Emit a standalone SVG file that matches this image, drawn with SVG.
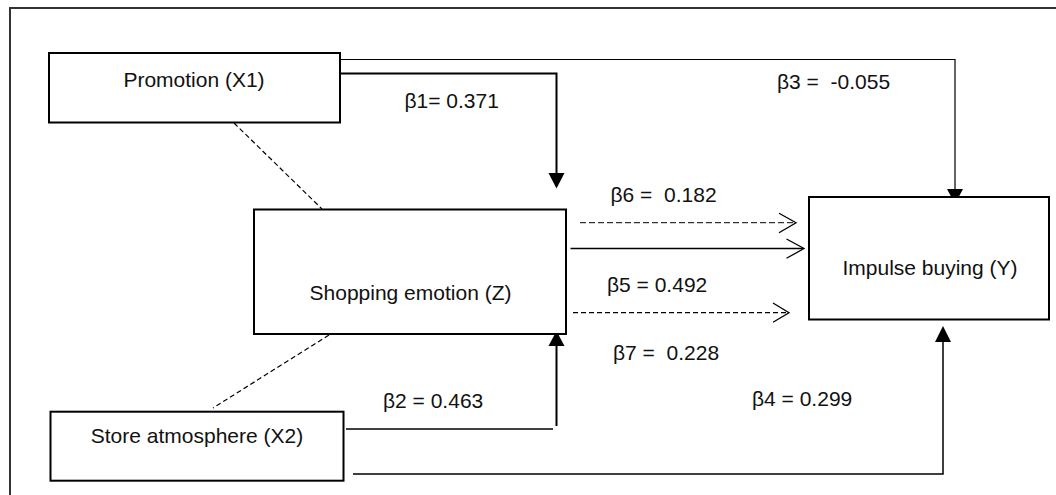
<svg xmlns="http://www.w3.org/2000/svg" width="1056" height="495" viewBox="0 0 1056 495">
<style>
.box{fill:#fff;stroke:#000;stroke-width:2}
.lbl{font-family:"Liberation Sans",Arial,sans-serif;font-size:21px;fill:#111;white-space:pre}
.mid{text-anchor:middle}
.ln{fill:none;stroke:#000}
.dash{fill:none;stroke:#000;stroke-width:1.2;stroke-dasharray:5 3}
.head{fill:#000;stroke:none}
</style>
<rect x="10" y="8" width="1100" height="600" fill="#fff" stroke="#333" stroke-width="2"/>
<g id="connectors">
  <line class="dash" x1="234" y1="123" x2="322" y2="209"/>
  <line class="dash" x1="329" y1="335" x2="213" y2="408"/>
  <polyline class="ln" stroke-width="1.2" points="340,59.5 955,59.5 955,190"/>
  <polygon class="head" points="947,189 963,189 955,204"/>
  <polyline class="ln" stroke-width="2" points="340,73.5 556.5,73.5 556.5,174"/>
  <polygon class="head" points="548.5,173 564.5,173 556.5,188.5"/>
  <line class="ln" stroke-width="1.5" x1="346" y1="429" x2="553" y2="429"/>
  <line class="ln" stroke-width="2" x1="556.5" y1="426" x2="556.5" y2="345"/>
  <polygon class="head" points="548.5,346 564.5,346 556.5,331"/>
  <polyline class="ln" stroke-width="1.5" points="353,474 943,474 943,341"/>
  <polygon class="head" points="935,342 951,342 943,326"/>
  <line class="ln" stroke-width="1" stroke-dasharray="6 3" x1="580" y1="222.7" x2="795" y2="222.7"/>
  <polyline class="ln" stroke-width="1.3" points="779,213.3 796,222.7 779,232.7"/>
  <line class="ln" stroke-width="1.5" x1="570.5" y1="248.5" x2="803" y2="248.5"/>
  <polyline class="ln" stroke-width="1.3" points="786.5,239 804,248.5 786.5,258.3"/>
  <line class="dash" x1="573" y1="312.7" x2="788" y2="312.7"/>
  <polyline class="ln" stroke-width="1.3" points="773,303 789,312.7 773,322.3"/>
</g>
<g id="node-promotion">
  <rect class="box" x="49" y="53" width="291" height="69.5"/>
  <text class="lbl mid" x="194" y="86.7">Promotion (X1)</text>
</g>
<g id="node-shopping">
  <rect class="box" x="254" y="209.5" width="312" height="124.5"/>
  <text class="lbl mid" x="410.5" y="300">Shopping emotion (Z)</text>
</g>
<g id="node-store">
  <rect class="box" x="50.5" y="411.7" width="293" height="69"/>
  <text class="lbl mid" x="197" y="443.3">Store atmosphere (X2)</text>
</g>
<g id="node-impulse">
  <rect class="box" x="809" y="197" width="240" height="122.5"/>
  <text class="lbl mid" x="930" y="275">Impulse buying (Y)</text>
</g>
<g id="labels">
  <text class="lbl" x="404.5" y="108.3">β1= 0.371</text>
  <text class="lbl" x="777" y="89.3">β3 =  -0.055</text>
  <text class="lbl" x="610.5" y="202.3">β6 =  0.182</text>
  <text class="lbl" x="607" y="291.7">β5 = 0.492</text>
  <text class="lbl" x="613" y="360">β7 =  0.228</text>
  <text class="lbl" x="752" y="405.7">β4 = 0.299</text>
  <text class="lbl" x="383" y="408.3">β2 = 0.463</text>
</g>
</svg>
